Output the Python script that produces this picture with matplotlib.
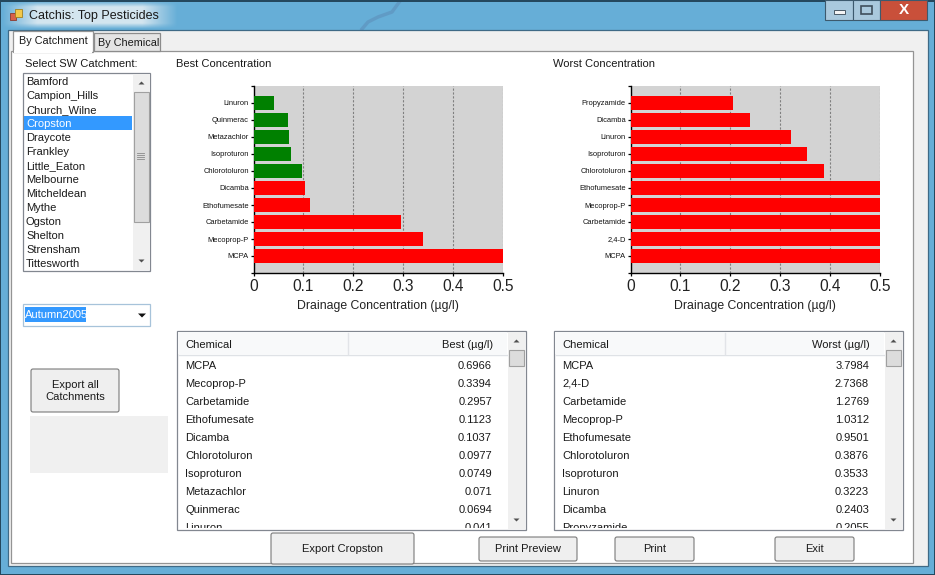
import numpy as np
import matplotlib
matplotlib.use("Agg")
import matplotlib.pyplot as plt
from matplotlib.patches import Rectangle, FancyBboxPatch, Polygon

W, H = 935, 575
UI_FONT = "Liberation Sans"

catchments = ["Bamford", "Campion_Hills", "Church_Wilne", "Cropston", "Draycote",
              "Frankley", "Little_Eaton", "Melbourne", "Mitcheldean", "Mythe",
              "Ogston", "Shelton", "Strensham", "Tittesworth"]

best_chemicals = ["MCPA", "Mecoprop-P", "Carbetamide", "Ethofumesate", "Dicamba",
                  "Chlorotoluron", "Isoproturon", "Metazachlor", "Quinmerac", "Linuron"]
best_values = [0.6966, 0.3394, 0.2957, 0.1123, 0.1037, 0.0977, 0.0749, 0.071, 0.0694, 0.041]

worst_chemicals = ["MCPA", "2,4-D", "Carbetamide", "Mecoprop-P", "Ethofumesate",
                   "Chlorotoluron", "Isoproturon", "Linuron", "Dicamba", "Propyzamide"]
worst_values = [3.7984, 2.7368, 1.2769, 1.0312, 0.9501, 0.3876, 0.3533, 0.3223, 0.2403, 0.2055]

x_ticks = [0, 0.1, 0.2, 0.3, 0.4, 0.5]
x_tick_labels = ["0", "0.1", "0.2", "0.3", "0.4", "0.5"]
limit = 0.1

plt.rcParams["font.family"] = [UI_FONT, "DejaVu Sans"]
fig = plt.figure(figsize=(W / 100, H / 100), dpi=100, facecolor="white")

# whole window is drawn in pixel coordinates
ui = fig.add_axes([0, 0, 1, 1], zorder=0)
ui.axis("off")


def rect(x0, y0, x1, y1, fc="none", ec="none", lw=1.0, z=2):
    p = Rectangle((x0, y0), x1 - x0, y1 - y0, facecolor=fc, edgecolor=ec, linewidth=lw, zorder=z)
    ui.add_patch(p)
    return p


def label(x, y, s, size=8.0, color="#1a1a1a", ha="left", z=5):
    # y is the middle of the capitals, so rows do not jitter with descenders
    return ui.text(x, y + 4, s, fontsize=size, color=color, ha=ha, va="baseline", zorder=z)


def button(x0, y0, x1, y1, s):
    p = FancyBboxPatch((x0 + 2, y0 + 2), x1 - x0 - 4, y1 - y0 - 4, boxstyle="round,pad=2,rounding_size=2",
                       facecolor="#efefef", edgecolor="#7a7a7a", linewidth=0.8, zorder=3)
    ui.add_patch(p)
    ui.text((x0 + x1) / 2, (y0 + y1) / 2, s, fontsize=8.0, color="#1a1a1a", ha="center", va="center",
            linespacing=1.25, zorder=5)


def arrow(cx, cy, up, color="#505050", size=3):
    d = -size if up else size
    ui.add_patch(Polygon([(cx - size, cy - d / 2), (cx + size, cy - d / 2), (cx, cy + d / 2)],
                         facecolor=color, edgecolor="none", zorder=5))


def scroll_bar(x0, x1, y0, y1, thumb0, thumb1):
    rect(x0, y0, x1, y1, fc="#f0f0f0", z=3)
    cx = (x0 + x1) / 2
    arrow(cx, y0 + 9, True)
    arrow(cx, y1 - 9, False)
    rect(x0 + 1, thumb0, x1 - 1, thumb1, fc="#dcdcdc", ec="#a0a0a0", lw=0.8, z=4)


# window frame and title bar
rect(0, 0, W, H, fc="#66aed7", z=0.3)
gx = np.linspace(0, 1, 200)
gy = np.linspace(0, 1, 40)
glow = np.zeros((40, 200, 4))
glow[:, :, :3] = [0.83, 0.90, 0.94]
# soft glow behind the caption text
glow[:, :, 3] = np.outer(np.clip(np.minimum(gy, 1 - gy) * 5, 0, 1),
                         np.clip(np.minimum(gx, 1 - gx) * 5, 0, 1))
ui.imshow(glow, extent=(2, 178, 29, 1), aspect="auto", zorder=0.6)
ui.plot([400, 392, 378, 368, 362], [1, 12, 17, 22, 29], color="#5d8fba", lw=2.5, alpha=0.6, zorder=0.7)
rect(0, 0, W, 1.5, fc="#24485e", z=0.8)
rect(0, 573.5, W, H, fc="#24485e", z=0.8)
rect(0, 0, 1.2, H, fc="#24485e", z=0.8)
rect(W - 1.2, 0, W, H, fc="#24485e", z=0.8)
rect(8, 30, 928, 566, fc="#f0f0f0", ec="#3f6a86", lw=0.9, z=1)
ui.set_xlim(0, W)
ui.set_ylim(H, 0)

# icon and caption
rect(10, 13, 16, 20, fc="#d8604a", ec="#8a3a30", lw=0.6)
rect(15, 9, 22, 17, fc="#f2c84a", ec="#a08020", lw=0.6)
label(29, 15, "Catchis: Top Pesticides", size=9)

# caption buttons
rect(825, 0, 853, 20, fc="#a9c9dd", ec="#3c5a6e", lw=0.8)
rect(853, 0, 880, 20, fc="#a9c9dd", ec="#3c5a6e", lw=0.8)
rect(880, 0, 927, 20, fc="#c9503a", ec="#3c5a6e", lw=0.8)
rect(834, 10, 845, 14, fc="#f4f4f4", ec="#4a5a66", lw=0.7)
rect(861, 6, 872, 14, fc="none", ec="#3f4f5c", lw=1.2)
label(904, 9.5, "X", size=11, color="white", ha="center").set_fontweight("bold")

# tab page and tabs
rect(11, 51, 913, 563, fc="white", ec="#949494", lw=0.9)
rect(94, 33, 160, 51, fc="#e4e4e4", ec="#8c8c8c", lw=0.9)
label(98, 42, "By Chemical", size=7.8)
rect(13, 31, 93, 52, fc="white", ec="#949494", lw=0.9)
rect(14, 50, 92, 53, fc="white", z=3)
label(19, 40, "By Catchment", size=7.8)

# catchment list box
rect(23, 73, 150, 271, fc="white", ec="#828790", lw=0.9)
rect(24, 116, 132, 130, fc="#3399ff", z=3)
for i, name in enumerate(catchments):
    color = "white" if name == "Cropston" else "#1a1a1a"
    label(26, 81 + i * 14, name, color=color)
scroll_bar(133, 150, 74, 270, 92, 222)
for bar_y in [153, 155, 157, 159]:
    ui.plot([137, 144], [bar_y, bar_y], color="#8a8a8a", lw=0.6, zorder=5)

# season combo box
rect(23, 304, 150, 326, fc="white", ec="#a7c3da", lw=0.9)
rect(25, 307, 86, 322, fc="#3399ff", z=3)
label(25, 314.5, "Autumn2005", color="white")
arrow(142, 315.5, False, color="#111111", size=4)

# captions on grey
rect(23, 56, 138, 72, fc="#f0f0f0", z=1.5)
label(25, 63, "Select SW Catchment:")
rect(174, 56, 275, 72, fc="#f0f0f0", z=1.5)
label(176, 63, "Best Concentration")
rect(551, 56, 660, 72, fc="#f0f0f0", z=1.5)
label(553, 63, "Worst Concentration")

button(31, 369, 119, 412, "Export all\nCatchments")
rect(30, 416, 168, 473, fc="#f0f0f0")

button(271, 533, 414, 564, "Export Cropston")
button(479, 537, 577, 561, "Print Preview")
button(615, 537, 694, 561, "Print")
button(775, 537, 854, 561, "Exit")


def draw_table(x0, heading, chemicals, values):
    x1 = x0 + 349
    rect(x0, 331, x1, 530, fc="white", ec="#828790", lw=0.9)
    rect(x0 + 1, 332, x1 - 19, 354, fc="#f8f9fa", z=2.5)
    ui.plot([x0 + 2, x1 - 19], [354.5, 354.5], color="#dfe2e6", lw=1, zorder=3)
    ui.plot([x0 + 171, x0 + 171], [333, 354], color="#e2e4e8", lw=1, zorder=3)
    label(x0 + 8, 344, "Chemical")
    label(x0 + 316, 344, heading, ha="right")
    clip = rect(x0 + 1, 355, x1 - 1, 528, z=1.9)
    for i, (name, val) in enumerate(zip(chemicals, values)):
        for t in (label(x0 + 8, 365 + i * 18, name),
                  label(x0 + 315, 365 + i * 18, str(val), ha="right")):
            t.set_clip_on(True)
            t.set_clip_path(clip)
    scroll_bar(x1 - 18, x1 - 1, 332, 529, 350, 366)


draw_table(177, "Best (µg/l)", best_chemicals, best_values)
draw_table(554, "Worst (µg/l)", worst_chemicals, worst_values)


def draw_chart(px0, chemicals, values, colors):
    px1 = px0 + 249.5
    ax = fig.add_axes([px0 / W, 1 - 273 / H, (px1 - px0) / W, (273 - 86) / H], zorder=2)
    ax.set_facecolor("#d3d3d3")
    names = chemicals[:10]
    pos = np.arange(1, len(names) + 1)
    ax.barh(pos, values, height=0.8, color=colors, zorder=3)
    ax.set_xlim(0, 0.5)
    ax.set_ylim(0, 11)
    ax.set_xticks(x_ticks)
    ax.set_xticklabels(x_tick_labels, fontsize=11.2, color="#222222")
    ax.set_yticks(np.arange(0, 12))
    ax.set_yticklabels([""] + names + [""], fontsize=5.4, color="#111111")
    ax.tick_params(axis="y", length=2.5, width=0.9, pad=0.8)
    ax.tick_params(axis="x", length=2.5, width=0.9, pad=2)
    ax.xaxis.grid(True, linestyle=(0, (2, 1.5)), color="#808080", linewidth=0.8, zorder=1)
    ax.set_axisbelow(True)
    for side in ["top", "right"]:
        ax.spines[side].set_visible(False)
    for side in ["left", "bottom"]:
        ax.spines[side].set_linewidth(1.0)
    ax.set_xlabel("Drainage Concentration (µg/l)", fontsize=8.8, color="#222222", labelpad=4.5)
    return ax


best_colors = ["green" if v < limit else "red" for v in best_values]
draw_chart(253.5, best_chemicals, best_values, best_colors)
draw_chart(630.5, worst_chemicals, worst_values, ["red"] * len(worst_values))

fig.savefig("out.png", dpi=100)
